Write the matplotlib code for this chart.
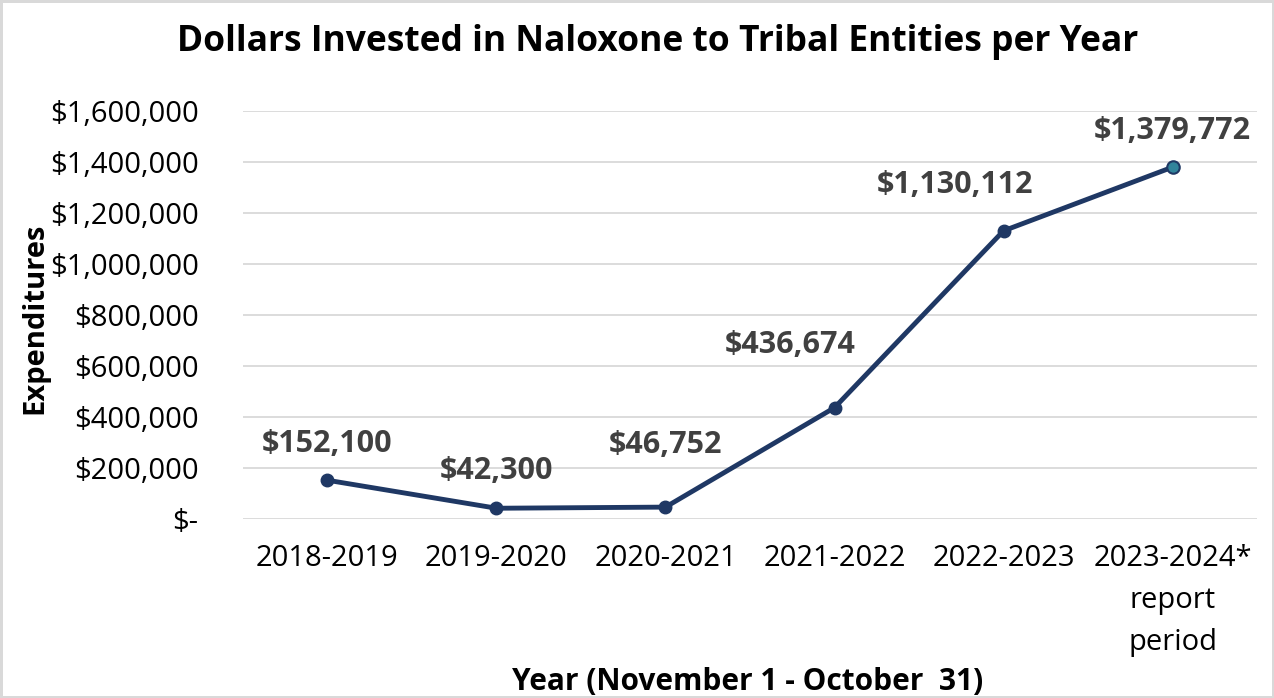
import numpy as np
import matplotlib.pyplot as plt
from matplotlib.ticker import FuncFormatter

# data
years = ['2018-2019', '2019-2020', '2020-2021', '2021-2022', '2022-2023',
         '2023-2024*\nreport\nperiod']
dollars = [152100, 42300, 46752, 436674, 1130112, 1379772]
y_ticks = [0, 200000, 400000, 600000, 800000, 1000000, 1200000, 1400000, 1600000]

# label offsets (points) so the values sit like the original
offsets = [(0, 26), (0, 27), (0, 45), (-32, 45), (-35, 33), (0, 26)]

plt.rcParams['font.family'] = ['Open Sans', 'DejaVu Sans']

fig = plt.figure(figsize=(12.74, 6.98), dpi=100, edgecolor='#D9D9D9', linewidth=2.5)
ax = fig.add_axes([0.1907, 0.2564, 0.796, 0.5846])

x = np.arange(len(years))
ax.plot(x, dollars, color='#1F3864', linewidth=3.5, zorder=3)
ax.plot(x[:-1], dollars[:-1], 'o', color='#1F3864', markersize=9, zorder=4)
ax.plot(x[-1:], dollars[-1:], 'o', color='#31849B', markeredgecolor='#1F3864',
        markeredgewidth=1.5, markersize=9, zorder=4)

for xi, v, off in zip(x, dollars, offsets):
    ax.annotate('${:,}'.format(v), (xi, v), xytext=off, textcoords='offset points',
                ha='center', va='center', fontsize=22, fontweight='bold', color='#404040')

ax.set_xlim(-0.5, len(years) - 0.5)
ax.set_ylim(0, 1600000)
ax.set_yticks(y_ticks)
ax.yaxis.set_major_formatter(FuncFormatter(lambda v, p: '$-' if v == 0 else '${:,.0f}'.format(v)))
ax.set_xticks(x)
ax.set_xticklabels(years, linespacing=1.6, va='top')
ax.tick_params(axis='both', length=0, labelsize=21, colors='#000000')
ax.tick_params(axis='x', pad=18)
ax.tick_params(axis='y', pad=32)

ax.grid(True, axis='y', color='#D9D9D9', linewidth=1.3)
ax.set_axisbelow(True)
for s in ax.spines.values():
    s.set_visible(False)

fig.text(0.516, 0.94, 'Dollars Invested in Naloxone to Tribal Entities per Year',
         ha='center', va='center', fontsize=25.5, fontweight='bold')
fig.text(0.587, 0.023, 'Year (November 1 - October  31)', ha='center', va='center',
         fontsize=21.5, fontweight='bold')
fig.text(0.0275, 0.544, 'Expenditures', rotation=90, ha='center', va='center',
         fontsize=21, fontweight='bold')

fig.savefig('out.png', dpi=100, edgecolor=fig.get_edgecolor())
